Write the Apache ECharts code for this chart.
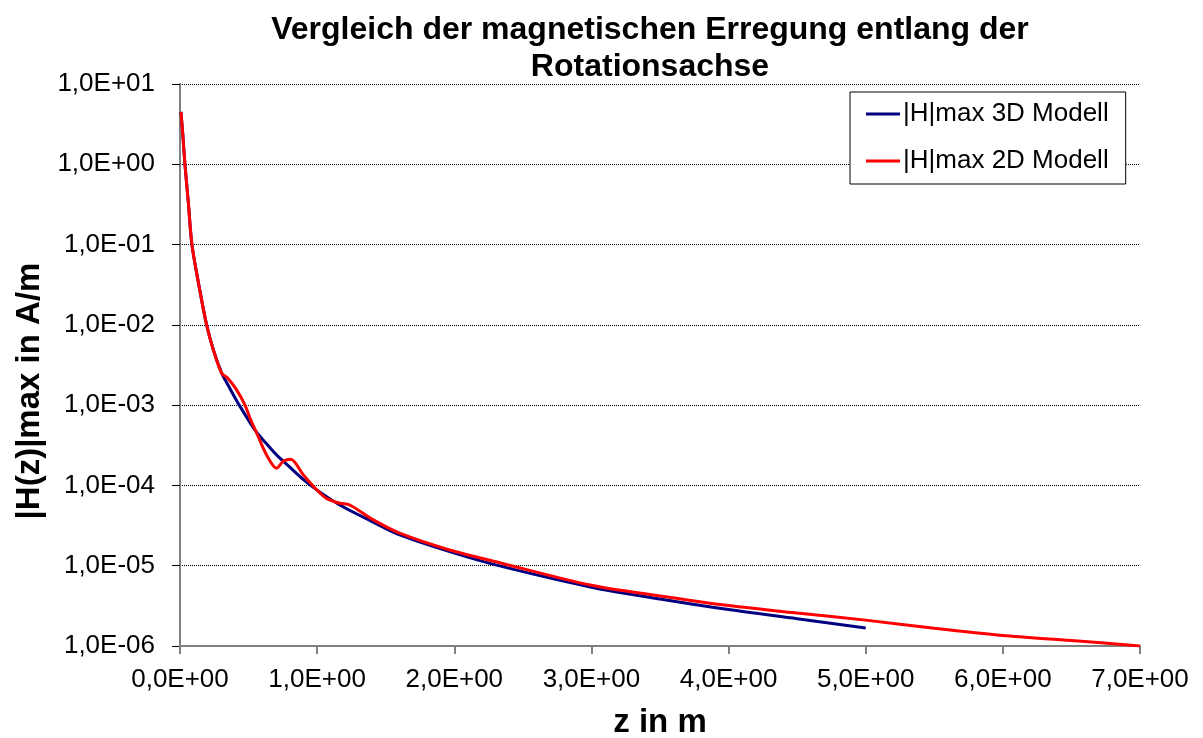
<!DOCTYPE html>
<html><head><meta charset="utf-8">
<script src="https://cdn.jsdelivr.net/npm/echarts@6/dist/echarts.min.js"></script>
<style>html,body{margin:0;padding:0;background:#fff}#c{width:1203px;height:738px}</style>
</head><body><div id="c"></div>
<script>
const titleText = 'Vergleich der magnetischen Erregung entlang der\nRotationsachse';
const xName = 'z in m';
const yName = '|H(z)|max in A/m';
const seriesNames = ['|H|max 3D Modell', '|H|max 2D Modell'];
const xTicks = [0, 1, 2, 3, 4, 5, 6, 7];

const z3D = [0.007, 0.02, 0.036, 0.061, 0.087, 0.138, 0.194, 0.243, 0.304, 0.35, 0.432, 0.554, 0.631, 0.704, 0.807, 0.9, 0.997, 1.165, 1.4, 1.602, 1.966, 2.331, 3.0, 3.5, 4.0, 4.5, 5.0];
const h3D = [4.5, 2.4, 1.0, 0.33, 0.1, 0.031, 0.01, 4.9e-3, 2.5e-3, 1.78e-3, 1.0e-3, 4.7e-4, 3.3e-4, 2.4e-4, 1.65e-4, 1.18e-4, 8.8e-5, 5.7e-5, 3.55e-5, 2.42e-5, 1.5e-5, 9.95e-6, 5.4e-6, 3.85e-6, 2.84e-6, 2.19e-6, 1.68e-6];

const z2D = [0.007, 0.02, 0.036, 0.061, 0.087, 0.138, 0.194, 0.243, 0.304, 0.35, 0.413, 0.474, 0.51, 0.554, 0.631, 0.704, 0.753, 0.807, 0.9, 0.997, 1.068, 1.165, 1.238, 1.4, 1.602, 1.966, 2.331, 3.0, 3.5, 4.0, 4.5, 5.0, 5.5, 6.0, 6.5, 7.0];
const h2D = [4.5, 2.4, 1.0, 0.33, 0.1, 0.031, 0.01, 4.9e-3, 2.5e-3, 2.15e-3, 1.55e-3, 1.0e-3, 6.9e-4, 4.7e-4, 2.4e-4, 1.64e-4, 2.0e-4, 2.12e-4, 1.35e-4, 8.8e-5, 6.9e-5, 6.0e-5, 5.7e-5, 3.8e-5, 2.54e-5, 1.57e-5, 1.09e-5, 5.7e-6, 4.2e-6, 3.19e-6, 2.57e-6, 2.1e-6, 1.66e-6, 1.35e-6, 1.17e-6, 1.0e-6];

const pairs = (xs, ys) => xs.map((x, i) => [x, ys[i]]);
const FONT = 'Liberation Sans, Arial, sans-serif';

const chart = echarts.init(document.getElementById('c'), null, {renderer: 'canvas'});
chart.setOption({
  animation: false,
  backgroundColor: '#fff',
  title: {
    text: titleText, left: 645, top: 7, textAlign: 'center',
    textStyle: {fontFamily: FONT, fontSize: 32, fontWeight: 'bold', color: '#000', lineHeight: 37}
  },
  grid: {left: 180, right: 63, top: 84, bottom: 92, containLabel: false, outerBoundsMode: 'none'},
  legend: {
    left: 850, top: 92, orient: 'vertical',
    data: seriesNames,
    icon: 'rect', itemWidth: 34, itemHeight: 3, itemGap: 21,
    padding: [9, 17, 10, 16],
    borderColor: '#000', borderWidth: 1, backgroundColor: '#fff',
    textStyle: {fontFamily: FONT, fontSize: 26, color: '#000', padding: [0, 0, 0, -2]}
  },
  xAxis: {
    type: 'value', min: 0, max: 7, interval: 1,
    name: xName, nameLocation: 'middle', nameGap: 60,
    nameTextStyle: {fontFamily: FONT, fontSize: 33, fontWeight: 'bold', color: '#000'},
    axisLine: {show: true, lineStyle: {color: '#808080', width: 2}},
    axisTick: {show: true, inside: false, length: 8, lineStyle: {color: '#808080', width: 2}},
    axisLabel: {fontFamily: FONT, fontSize: 26, color: '#000', margin: 21,
      formatter: v => (xTicks.includes(v) ? v.toFixed(1).replace('.', ',') + 'E+00' : '')},
    splitLine: {show: false}
  },
  yAxis: {
    type: 'log', logBase: 10, min: 1e-6, max: 10,
    name: yName, nameLocation: 'middle', nameGap: 134, nameRotate: 90,
    nameTextStyle: {fontFamily: FONT, fontSize: 33, fontWeight: 'bold', color: '#000', padding: [0, 52, 0, 0]},
    axisLine: {show: true, lineStyle: {color: '#808080', width: 2}},
    axisTick: {show: true, inside: false, length: 8, lineStyle: {color: '#000', width: 1}},
    axisLabel: {fontFamily: FONT, fontSize: 26, color: '#000', margin: 25,
      formatter: v => {
        const e = Math.round(Math.log10(v));
        return '1,0E' + (e >= 0 ? '+' : '-') + String(Math.abs(e)).padStart(2, '0');
      }},
    splitLine: {show: true, lineStyle: {color: '#000', width: 1, type: [1, 1]}},
    minorTick: {show: false}
  },
  series: [
    {
      name: seriesNames[0], type: 'line', data: pairs(z3D, h3D),
      showSymbol: false, smooth: 0.3,
      lineStyle: {color: '#000080', width: 3}, itemStyle: {color: '#000080'}, z: 2
    },
    {
      name: seriesNames[1], type: 'line', data: pairs(z2D, h2D),
      showSymbol: false, smooth: 0.3,
      lineStyle: {color: '#ff0000', width: 3}, itemStyle: {color: '#ff0000'}, z: 3
    }
  ]
});
</script>
</body></html>
